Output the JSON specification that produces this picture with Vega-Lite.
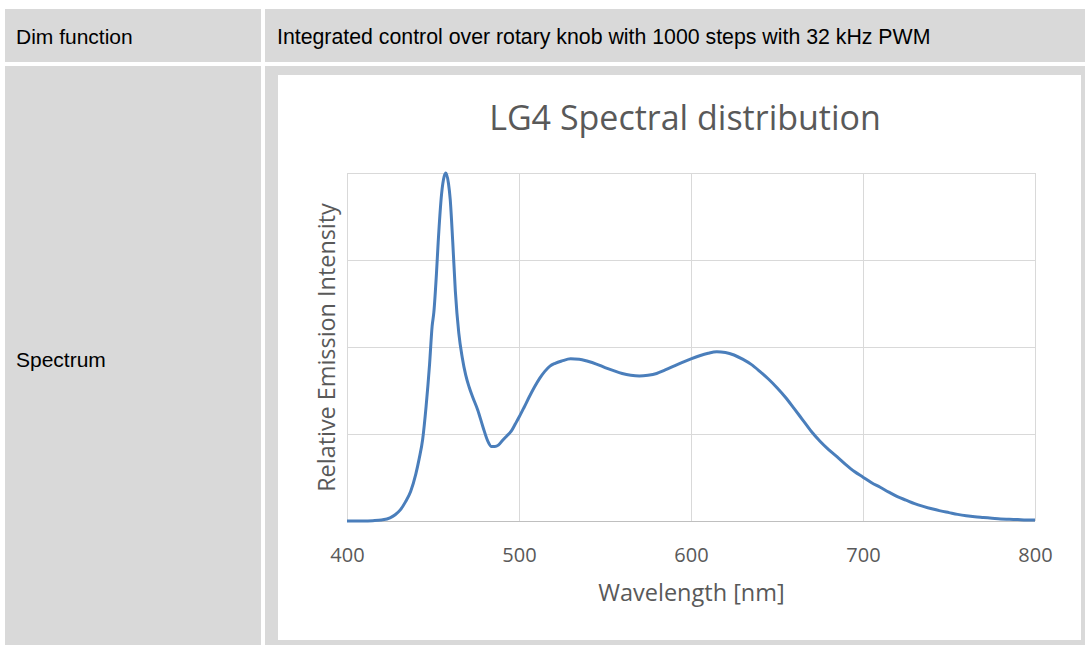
{
  "$schema": "https://vega.github.io/schema/vega-lite/v6.json",
  "background": "white",
  "padding": {"left": 5, "top": 9, "right": 0, "bottom": 0},
  "autosize": {"type": "pad"},
  "columns": 2,
  "align": "each",
  "spacing": 4,
  "bounds": "full",
  "config": {
    "view": {"stroke": null},
    "font": "Open Sans"
  },
  "concat": [
    {
      "width": 256, "height": 53,
      "view": {"fill": "#d9d9d9", "stroke": null},
      "data": {"values": [{"label": "Dim function"}]},
      "mark": {"type": "text", "align": "left", "baseline": "alphabetic", "x": 11, "dy": 8.5, "font": "Liberation Sans", "fontSize": 21, "color": "#000000"},
      "encoding": {"text": {"field": "label"}}
    },
    {
      "width": 820, "height": 53,
      "view": {"fill": "#d9d9d9", "stroke": null},
      "data": {"values": [{"label": "Integrated control over rotary knob with 1000 steps with 32 kHz PWM"}]},
      "mark": {"type": "text", "align": "left", "baseline": "alphabetic", "x": 12, "dy": 8.5, "font": "Liberation Sans", "fontSize": 21.3, "color": "#000000"},
      "encoding": {"text": {"field": "label"}}
    },
    {
      "width": 256, "height": 579,
      "view": {"fill": "#d9d9d9", "stroke": null},
      "data": {"values": [{"label": "Spectrum"}]},
      "mark": {"type": "text", "align": "left", "baseline": "alphabetic", "x": 11, "dy": 11.5, "font": "Liberation Sans", "fontSize": 21, "color": "#000000"},
      "encoding": {"text": {"field": "label"}}
    },
    {
      "width": 820, "height": 579,
      "view": {"fill": "#d9d9d9", "stroke": null},
      "title": {"text": "LG4 Spectral distribution", "font": "Open Sans", "fontSize": 34, "fontWeight": "normal", "color": "#595959", "baseline": "alphabetic", "offset": -98, "dx": 10, "anchor": "middle", "zindex": 1},
      "layer": [
        {
          "data": {"values": [{}]},
          "mark": {"type": "rect", "fill": "#ffffff", "stroke": null},
          "encoding": {
            "x": {"datum": 359.88, "type": "quantitative", "title": "Wavelength [nm]", "scale": {"domain": [400, 800], "range": [82, 770], "nice": false, "zero": false}},
            "x2": {"datum": 826.74},
            "y": {"datum": -0.342, "type": "quantitative", "title": "Relative Emission Intensity", "scale": {"domain": [0, 1], "range": [455, 107], "nice": false, "zero": false}},
            "y2": {"datum": 1.2816}
          }
        },
        {
          "data": {"values": [{"g": 400}, {"g": 500}, {"g": 600}, {"g": 700}, {"g": 800}]},
          "mark": {"type": "rule", "color": "#d9d9d9", "strokeWidth": 1, "xOffset": 0.5},
          "encoding": {
            "x": {"field": "g", "type": "quantitative", "title": "Wavelength [nm]", "scale": {"domain": [400, 800], "range": [82, 770], "nice": false, "zero": false}},
            "y": {"datum": 0, "type": "quantitative", "title": "Relative Emission Intensity", "scale": {"domain": [0, 1], "range": [455, 107], "nice": false, "zero": false}},
            "y2": {"datum": 1}
          }
        },
        {
          "data": {"values": [{"v": 0.25}, {"v": 0.5}, {"v": 0.75}, {"v": 1}]},
          "mark": {"type": "rule", "color": "#d9d9d9", "strokeWidth": 1, "yOffset": 0.5},
          "encoding": {
            "y": {"field": "v", "type": "quantitative", "title": "Relative Emission Intensity", "scale": {"domain": [0, 1], "range": [455, 107], "nice": false, "zero": false}},
            "x": {"datum": 400, "type": "quantitative", "title": "Wavelength [nm]", "scale": {"domain": [400, 800], "range": [82, 770], "nice": false, "zero": false}},
            "x2": {"datum": 800}
          }
        },
        {
          "data": {"values": [{"v": 0}]},
          "mark": {"type": "rule", "color": "#bfbfbf", "strokeWidth": 1, "yOffset": 0.5},
          "encoding": {
            "y": {"field": "v", "type": "quantitative", "title": "Relative Emission Intensity", "scale": {"domain": [0, 1], "range": [455, 107], "nice": false, "zero": false}},
            "x": {"datum": 400, "type": "quantitative", "title": "Wavelength [nm]", "scale": {"domain": [400, 800], "range": [82, 770], "nice": false, "zero": false}},
            "x2": {"datum": 800}
          }
        },
        {
          "data": {"values": [
            {"nm": 400, "intensity": 0.0}, {"nm": 405, "intensity": 0.0}, {"nm": 410, "intensity": 0.0},
            {"nm": 415, "intensity": 0.001}, {"nm": 420, "intensity": 0.003}, {"nm": 425, "intensity": 0.009},
            {"nm": 428, "intensity": 0.018}, {"nm": 431, "intensity": 0.032}, {"nm": 434, "intensity": 0.055},
            {"nm": 437, "intensity": 0.085}, {"nm": 440, "intensity": 0.135}, {"nm": 442, "intensity": 0.18},
            {"nm": 444, "intensity": 0.235}, {"nm": 446, "intensity": 0.33}, {"nm": 448, "intensity": 0.45},
            {"nm": 449.5, "intensity": 0.56}, {"nm": 450.5, "intensity": 0.6}, {"nm": 452, "intensity": 0.71},
            {"nm": 453, "intensity": 0.8}, {"nm": 455, "intensity": 0.94}, {"nm": 456.5, "intensity": 0.99},
            {"nm": 457.5, "intensity": 1.0}, {"nm": 459, "intensity": 0.97}, {"nm": 460, "intensity": 0.925},
            {"nm": 461.5, "intensity": 0.8}, {"nm": 463, "intensity": 0.66}, {"nm": 465, "intensity": 0.54},
            {"nm": 467, "intensity": 0.47}, {"nm": 469, "intensity": 0.42}, {"nm": 471, "intensity": 0.385},
            {"nm": 473, "intensity": 0.357}, {"nm": 476, "intensity": 0.319}, {"nm": 479, "intensity": 0.271},
            {"nm": 482, "intensity": 0.228}, {"nm": 484, "intensity": 0.214}, {"nm": 486, "intensity": 0.214},
            {"nm": 488, "intensity": 0.218}, {"nm": 490.5, "intensity": 0.232}, {"nm": 493, "intensity": 0.245},
            {"nm": 495.5, "intensity": 0.258}, {"nm": 498, "intensity": 0.28}, {"nm": 500, "intensity": 0.298},
            {"nm": 503, "intensity": 0.327}, {"nm": 506, "intensity": 0.357}, {"nm": 509, "intensity": 0.385},
            {"nm": 512, "intensity": 0.41}, {"nm": 515, "intensity": 0.43}, {"nm": 518, "intensity": 0.445},
            {"nm": 521, "intensity": 0.453}, {"nm": 525, "intensity": 0.46}, {"nm": 530, "intensity": 0.466},
            {"nm": 535, "intensity": 0.465}, {"nm": 540, "intensity": 0.459}, {"nm": 545, "intensity": 0.451},
            {"nm": 550, "intensity": 0.441}, {"nm": 555, "intensity": 0.432}, {"nm": 560, "intensity": 0.424},
            {"nm": 565, "intensity": 0.419}, {"nm": 570, "intensity": 0.417}, {"nm": 575, "intensity": 0.419},
            {"nm": 580, "intensity": 0.424}, {"nm": 585, "intensity": 0.434}, {"nm": 590, "intensity": 0.445},
            {"nm": 595, "intensity": 0.456}, {"nm": 600, "intensity": 0.466}, {"nm": 605, "intensity": 0.475},
            {"nm": 610, "intensity": 0.482}, {"nm": 615, "intensity": 0.486}, {"nm": 620, "intensity": 0.484},
            {"nm": 625, "intensity": 0.477}, {"nm": 630, "intensity": 0.465}, {"nm": 635, "intensity": 0.45},
            {"nm": 640, "intensity": 0.43}, {"nm": 645, "intensity": 0.408}, {"nm": 650, "intensity": 0.383},
            {"nm": 655, "intensity": 0.355}, {"nm": 660, "intensity": 0.323}, {"nm": 665, "intensity": 0.29},
            {"nm": 670, "intensity": 0.257}, {"nm": 675, "intensity": 0.229}, {"nm": 680, "intensity": 0.205},
            {"nm": 685, "intensity": 0.184}, {"nm": 690, "intensity": 0.162}, {"nm": 695, "intensity": 0.142},
            {"nm": 700, "intensity": 0.126}, {"nm": 705, "intensity": 0.11}, {"nm": 710, "intensity": 0.097},
            {"nm": 715, "intensity": 0.083}, {"nm": 720, "intensity": 0.07}, {"nm": 725, "intensity": 0.06},
            {"nm": 730, "intensity": 0.05}, {"nm": 735, "intensity": 0.042}, {"nm": 740, "intensity": 0.035},
            {"nm": 745, "intensity": 0.029}, {"nm": 750, "intensity": 0.024}, {"nm": 755, "intensity": 0.019},
            {"nm": 760, "intensity": 0.015}, {"nm": 765, "intensity": 0.012}, {"nm": 770, "intensity": 0.01},
            {"nm": 775, "intensity": 0.008}, {"nm": 780, "intensity": 0.006}, {"nm": 785, "intensity": 0.005},
            {"nm": 790, "intensity": 0.004}, {"nm": 795, "intensity": 0.003}, {"nm": 800, "intensity": 0.003}
          ]},
          "mark": {"type": "line", "color": "#4a7ebb", "strokeWidth": 3, "interpolate": "monotone"},
          "encoding": {
            "x": {
              "field": "nm", "type": "quantitative", "title": "Wavelength [nm]",
              "scale": {"domain": [400, 800], "range": [82, 770], "nice": false, "zero": false},
              "axis": {"values": [400, 500, 600, 700, 800], "grid": false, "domain": false, "ticks": false, "offset": -124, "labelFont": "Open Sans", "labelFontSize": 20, "labelColor": "#595959", "labelPadding": 24, "labelFlush": false, "titleFont": "Open Sans", "titleFontSize": 23.5, "titleFontWeight": "normal", "titleColor": "#595959", "titlePadding": 16, "zindex": 1}
            },
            "y": {
              "field": "intensity", "type": "quantitative", "title": "Relative Emission Intensity",
              "scale": {"domain": [0, 1], "range": [455, 107], "nice": false, "zero": false},
              "axis": {"grid": false, "domain": false, "ticks": false, "labels": false, "offset": -82, "titleFont": "Open Sans", "titleFontSize": 23.4, "titleFontWeight": "normal", "titleColor": "#595959", "titlePadding": 8, "minExtent": 0, "maxExtent": 0, "zindex": 1}
            }
          }
        }
      ]
    }
  ]
}
